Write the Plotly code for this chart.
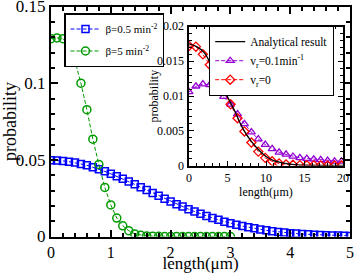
import plotly.graph_objects as go

# ---------------- data ----------------
len_main = [round(0.1 * i, 1) for i in range(51)]
prob_beta05 = [0.0497, 0.0496, 0.0493, 0.0488, 0.0482, 0.0473, 0.0464, 0.0452, 0.0439, 0.0425,
               0.0409, 0.0393, 0.0376, 0.0358, 0.0340, 0.0321, 0.0303, 0.0284, 0.0265, 0.0247,
               0.0229, 0.0211, 0.0195, 0.0178, 0.0163, 0.0148, 0.0134, 0.0121, 0.0109, 0.0097,
               0.0087, 0.0077, 0.0068, 0.0060, 0.0053, 0.0046, 0.0040, 0.0035, 0.0030, 0.0026,
               0.0022, 0.0019, 0.0016, 0.0014, 0.0012, 0.0010, 0.0008, 0.0007, 0.0006, 0.0005,
               0.0004]
len_green = [round(0.1 * i, 1) for i in range(31)]
prob_beta5 = [0.1290, 0.1295, 0.1290, 0.1250, 0.1147, 0.1000, 0.0827, 0.0635, 0.0470, 0.0320,
              0.0206, 0.0120, 0.0070, 0.0038, 0.0017, 0.0008, 0.0004, 0.0002, 0.0001, 0.0,
              0.0, 0.0, 0.0, 0.0, 0.0, 0.0, 0.0, 0.0, 0.0, 0.0, 0.0]

len_inset = [round(0.9 * i, 1) for i in range(23)]
prob_vr01 = [0.0106, 0.0114, 0.0117, 0.0116, 0.0109, 0.0099, 0.0088, 0.0074, 0.0060, 0.0048,
             0.0038, 0.0030, 0.0024, 0.0019, 0.0016, 0.0013, 0.0011, 0.0010, 0.0009, 0.0008,
             0.0007, 0.0006, 0.0006]
prob_vr0 = [0.0172, 0.0171, 0.0160, 0.0145, 0.0128, 0.0107, 0.0088, 0.0068, 0.0049, 0.0033,
            0.0020, 0.0011, 0.0006, 0.0003, 0.00015, 0.0001, 0.00005, 0.00003, 0.00002, 0.00001,
            0.0, 0.0, 0.0]
len_analytic = list(range(21))
prob_analytic = [0.0175, 0.0171, 0.0162, 0.0142, 0.0121, 0.0099, 0.0077, 0.0053, 0.0036, 0.0023,
                 0.0013, 0.0007, 0.0004, 0.0002, 0.0001, 0.00005, 0.00002, 0.00001, 0.0, 0.0, 0.0]

inset_yticks = [0, 0.005, 0.01, 0.015, 0.02]
inset_ylabels = ["0", "0.005", "0.01", "0.015", "0.02"]

# ---------------- figure ----------------
W, H = 354, 273
FONT = "Liberation Serif"

def px_x(p):
    return p / W

def px_y(p):
    return 1 - p / H

fig = go.Figure()

fig.add_trace(go.Scatter(
    x=len_main, y=prob_beta05, mode="lines+markers", name="β=0.5 min<sup>-2</sup>",
    line=dict(color="#0000ff", width=1, dash="4px,2px"),
    marker=dict(symbol="square-open", size=7, color="#0000ff", line=dict(width=1.5)),
    xaxis="x", yaxis="y", legend="legend", legendgroup="a"))
fig.add_trace(go.Scatter(
    x=len_green, y=prob_beta5, mode="lines+markers", name="β=5 min<sup>-2</sup>",
    line=dict(color="#009900", width=1, dash="4px,2px"),
    marker=dict(symbol="circle-open", size=8, color="#009900", line=dict(width=1.5)),
    xaxis="x", yaxis="y", legend="legend", legendgroup="b"))

fig.add_trace(go.Scatter(
    x=len_inset, y=prob_vr01, mode="lines+markers", name="v<sub>r</sub>=0.1min<sup>-1</sup>",
    line=dict(color="#9400d3", width=1, dash="4px,2px"),
    marker=dict(symbol="triangle-up-open", size=7, color="#9400d3", line=dict(width=1.3)),
    xaxis="x2", yaxis="y2", legend="legend2", legendrank=2))
fig.add_trace(go.Scatter(
    x=len_inset, y=prob_vr0, mode="lines+markers", name="v<sub>r</sub>=0",
    line=dict(color="#ff0000", width=1, dash="4px,2px"),
    marker=dict(symbol="diamond-open", size=7, color="#ff0000", line=dict(width=1.3)),
    xaxis="x2", yaxis="y2", legend="legend2", legendrank=3))
fig.add_trace(go.Scatter(
    x=len_analytic, y=prob_analytic, mode="lines", name="Analytical result",
    line=dict(color="black", width=1.3, shape="spline"),
    xaxis="x2", yaxis="y2", legend="legend2", legendrank=1))

axis_common = dict(showgrid=False, zeroline=False, showline=True, linecolor="black",
                   mirror="allticks", ticks="inside", tickcolor="black", automargin=False,
                   ticklabeloverflow="allow")

# inset y tick labels and title as text tied to the inset y axis
annotations = [dict(xref="paper", x=px_x(186), xanchor="right", yref="y2", y=v,
                    yanchor="middle", text=t, showarrow=False,
                    font=dict(size=12, family=FONT, color="black"))
               for v, t in zip(inset_yticks, inset_ylabels)]
annotations.append(dict(xref="paper", x=px_x(153.5), xanchor="center",
                        yref="paper", y=px_y(96), yanchor="middle", text="probability",
                        textangle=-90, showarrow=False,
                        font=dict(size=12, family=FONT, color="black")))

fig.update_layout(
    width=W, height=H, autosize=False,
    margin=dict(l=0, r=0, t=0, b=0, autoexpand=False),
    paper_bgcolor="white", plot_bgcolor="white",
    font=dict(family=FONT, color="black"),
    xaxis=dict(axis_common, domain=[px_x(51), px_x(350)], range=[0, 5], dtick=1,
               linewidth=2, ticklen=7, tickwidth=1.5,
               minor=dict(dtick=0.2, ticks="inside", ticklen=4, tickcolor="black", tickwidth=1.5),
               tickfont=dict(size=16, family=FONT),
               title=dict(text="length(μm)", font=dict(size=17, family=FONT), standoff=5),
               anchor="y"),
    yaxis=dict(axis_common, domain=[px_y(236.5), px_y(6.5)], range=[0, 0.15], dtick=0.05,
               linewidth=2, ticklen=7, tickwidth=1.5,
               minor=dict(dtick=0.01, ticks="inside", ticklen=4, tickcolor="black", tickwidth=1.5),
               tickfont=dict(size=17, family=FONT),
               title=dict(text="probability", font=dict(size=18, family=FONT), standoff=2),
               anchor="x"),
    xaxis2=dict(axis_common, domain=[px_x(189), px_x(343)], range=[0, 20], dtick=5,
                linewidth=1.5, ticklen=5, tickwidth=1,
                minor=dict(dtick=1, ticks="inside", ticklen=3, tickcolor="black", tickwidth=1),
                tickfont=dict(size=12, family=FONT),
                title=dict(text="length(μm)", font=dict(size=12, family=FONT), standoff=1),
                anchor="y2"),
    yaxis2=dict(axis_common, domain=[px_y(165.5), px_y(26.5)], range=[0, 0.02],
                tickmode="array", tickvals=inset_yticks, showticklabels=False,
                linewidth=1.5, ticklen=5, tickwidth=1,
                minor=dict(dtick=0.001, ticks="inside", ticklen=3, tickcolor="black", tickwidth=1),
                anchor="x2"),
    annotations=annotations,
    legend=dict(x=px_x(64), y=px_y(13), xanchor="left", yanchor="top",
                bgcolor="white", bordercolor="black", borderwidth=1.5,
                font=dict(size=11, family=FONT), itemwidth=30, tracegroupgap=3),
    legend2=dict(x=px_x(209), y=px_y(26), xanchor="left", yanchor="top",
                 bgcolor="white", bordercolor="black", borderwidth=1.2,
                 font=dict(size=11.5, family=FONT), itemwidth=30, tracegroupgap=0,
                 traceorder="normal"),
    showlegend=True,
)

fig.write_html("out.html", post_script="document.body.style.margin='0px';",
               config={"displayModeBar": False})
